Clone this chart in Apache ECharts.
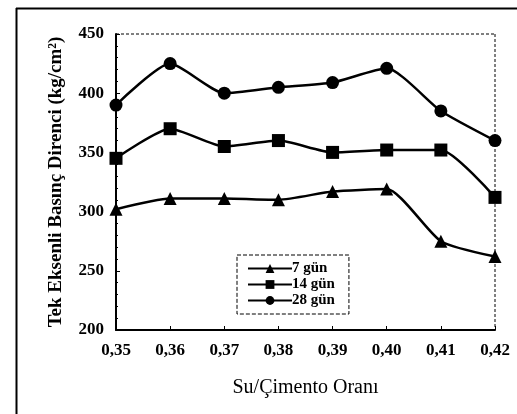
<!DOCTYPE html>
<html><head><meta charset="utf-8">
<script src="https://cdn.jsdelivr.net/npm/echarts@6/dist/echarts.min.js"></script>
<style>html,body{margin:0;padding:0;background:#fff}#c{width:517px;height:414px}</style>
</head><body><div id="c"></div>
<script>
const categories = ['0,35','0,36','0,37','0,38','0,39','0,40','0,41','0,42'];
const gun7 = [302, 311, 311, 310, 317, 319, 275, 262];
const gun14 = [345, 370, 355, 360, 350, 352, 352, 312];
const gun28 = [390, 425, 400, 405, 409, 421, 385, 360];
const seriesNames = ['7 gün', '14 gün', '28 gün'];
const yTitle = 'Tek Eksenli Basınç Direnci (kg/cm²)';
const xTitle = 'Su/Çimento Oranı';

const font = 'Liberation Serif';
const chart = echarts.init(document.getElementById('c'));
function mk(name, data, symbol, size) {
  return {
    name, type: 'line', data, symbol, symbolSize: size, smooth: 0.2,
    lineStyle: {color: '#000', width: 2.5},
    itemStyle: {color: '#000'}
  };
}
chart.setOption({
  animation: false,
  grid: {left: 116, right: 22, top: 34, bottom: 84},
  graphic: [
    {type: 'line', shape: {x1: 16.5, y1: 8, x2: 16.5, y2: 414}, style: {stroke: '#000', lineWidth: 2}},
    {type: 'line', shape: {x1: 16, y1: 8.5, x2: 517, y2: 8.5}, style: {stroke: '#000', lineWidth: 2}},
    {type: 'line', shape: {x1: 116, y1: 34, x2: 495, y2: 34}, style: {stroke: '#000', lineWidth: 1, lineDash: [3, 2]}},
    {type: 'line', shape: {x1: 495, y1: 34, x2: 495, y2: 330}, style: {stroke: '#000', lineWidth: 1, lineDash: [3, 2]}}
  ],
  legend: {
    left: 237, top: 255, orient: 'vertical', itemGap: 1, itemWidth: 44, itemHeight: 11,
    padding: [6, 14, 6, 10],
    borderColor: '#000', borderWidth: 1, borderType: 'dashed',
    textStyle: {fontFamily: font, fontWeight: 'bold', fontSize: 15, color: '#000', padding: [0,0,0,-5]},
    data: seriesNames
  },
  xAxis: {
    type: 'category', data: categories, boundaryGap: false,
    name: xTitle, nameLocation: 'middle', nameGap: 48,
    nameTextStyle: {fontFamily: font, fontSize: 20, color: '#000'},
    axisLine: {lineStyle: {color: '#000', width: 2}},
    axisTick: {inside: true, length: 4, lineStyle: {color: '#000'}},
    axisLabel: {fontFamily: font, fontWeight: 'bold', fontSize: 17, color: '#000', margin: 12},
    splitLine: {show: false}
  },
  yAxis: {
    type: 'value', min: 200, max: 450, interval: 50,
    name: yTitle, nameLocation: 'middle', nameGap: 50,
    nameTextStyle: {fontFamily: font, fontWeight: 'bold', fontSize: 19, color: '#000'},
    axisLine: {show: true, lineStyle: {color: '#000', width: 2}},
    axisTick: {show: true, inside: true, length: 4, lineStyle: {color: '#000'}},
    minorTick: {show: true, splitNumber: 5, length: 2, lineStyle: {color: '#000'}},
    axisLabel: {fontFamily: font, fontWeight: 'bold', fontSize: 17, color: '#000', margin: 12},
    splitLine: {show: false}
  },
  series: [
    mk(seriesNames[0], gun7, 'triangle', 13),
    mk(seriesNames[1], gun14, 'rect', 13),
    mk(seriesNames[2], gun28, 'circle', 13)
  ]
});
</script></body></html>
